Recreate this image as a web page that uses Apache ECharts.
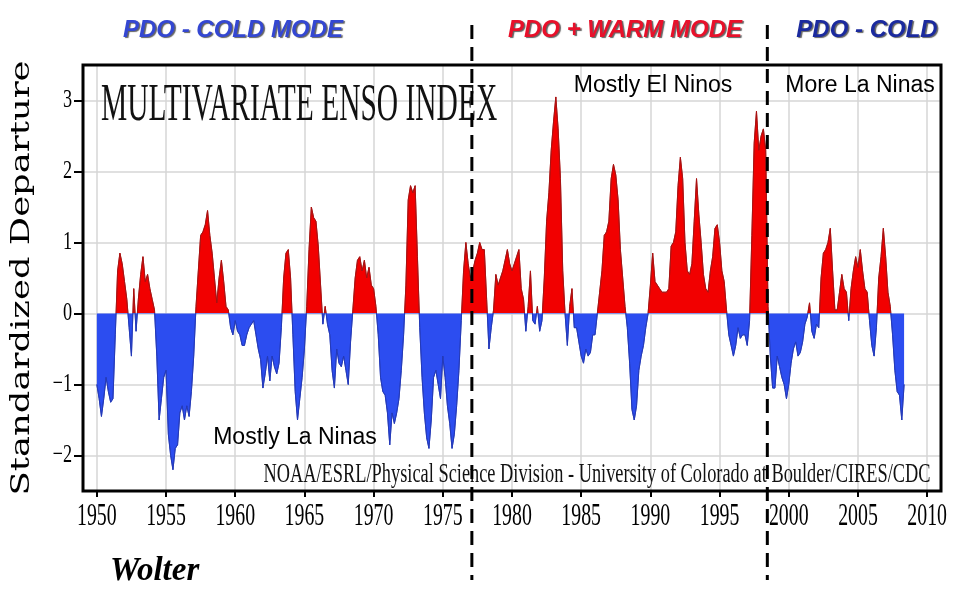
<!DOCTYPE html>
<html><head><meta charset="utf-8">
<script src="https://cdn.jsdelivr.net/npm/echarts@6/dist/echarts.min.js"></script>
<style>html,body{margin:0;padding:0;background:#fff}#c{width:960px;height:598px}</style>
</head><body><div id="c"></div>
<script>
// ---- data: Multivariate ENSO Index, bimonthly steps starting Jan 1950 ----
const startYear = 1950;
const stepsPerYear = 6;
const mei1950s = [
  -1.0,-1.2,-1.45,-1.2,-0.9,-1.1,  -1.25,-1.2,-0.3,0.6,0.85,0.7,
  0.45,0.2,-0.2,-0.6,0.35,-0.25,   0.2,0.55,0.8,0.45,0.55,0.35,
  0.2,0.05,-0.6,-1.5,-1.2,-0.9,    -0.8,-1.7,-2.0,-2.2,-1.9,-1.85,
  -1.4,-1.3,-1.5,-1.3,-1.45,-1.1,  -0.6,0.1,0.6,1.1,1.15,1.25,
  1.45,1.1,0.85,0.5,0.15,0.5,      0.75,0.45,0.1,0.05,-0.2,-0.3
];
const mei1960s = [
  -0.1,-0.25,-0.3,-0.45,-0.45,-0.3, -0.2,-0.15,-0.1,-0.3,-0.5,-0.65,
  -1.05,-0.85,-0.6,-0.95,-0.6,-0.75, -0.85,-0.7,-0.2,0.5,0.85,0.9,
  0.5,-0.3,-1.1,-1.5,-1.2,-0.9,     -0.5,0.1,0.9,1.5,1.35,1.3,
  0.95,0.4,-0.15,0.1,-0.15,-0.3,    -0.8,-1.05,-0.5,-0.7,-0.75,-0.6,
  -0.8,-1.0,-0.4,0.05,0.5,0.75,     0.8,0.6,0.75,0.5,0.65,0.4
];
const mei1970s = [
  0.35,0.1,-0.3,-0.9,-1.1,-1.15,    -1.4,-1.85,-1.4,-1.55,-1.4,-1.2,
  -0.8,-0.3,0.4,1.6,1.8,1.7,        1.8,0.8,-0.2,-0.9,-1.4,-1.75,
  -1.9,-1.5,-0.9,-0.8,-1.0,-1.2,    -0.6,-0.9,-1.3,-1.55,-1.9,-1.7,
  -1.3,-0.8,-0.1,0.6,1.0,0.7,       0.5,0.6,0.75,0.85,1.0,0.9,
  0.9,0.2,-0.5,-0.2,0.05,0.55,      0.4,0.5,0.6,0.75,0.9,0.7
];
const mei1980s = [
  0.6,0.7,0.8,0.9,0.35,0.2,         -0.25,0.1,0.6,-0.1,-0.15,0.1,
  -0.25,-0.1,0.5,1.3,1.7,2.3,       2.7,3.05,2.6,1.9,0.6,0.0,
  -0.45,0.1,0.35,-0.2,-0.2,-0.4,    -0.6,-0.7,-0.5,-0.6,-0.55,-0.3,
  -0.3,0.0,0.3,0.6,1.1,1.15,        1.3,1.9,2.1,1.95,1.6,0.9,
  0.5,0.1,-0.2,-0.7,-1.35,-1.5,     -1.3,-0.8,-0.6,-0.45,-0.2,0.0
];
const mei1990s = [
  0.4,0.85,0.45,0.4,0.35,0.3,       0.3,0.3,0.35,0.95,1.0,1.15,
  1.8,2.2,1.9,1.0,0.6,0.55,         0.7,1.3,1.9,1.4,1.0,0.55,
  0.35,0.3,0.6,0.8,1.2,1.25,        1.0,0.6,0.45,0.05,-0.3,-0.45,
  -0.6,-0.45,-0.2,-0.35,-0.3,-0.3,  -0.45,-0.1,1.1,2.4,2.85,2.3,
  2.5,2.6,2.3,0.1,-0.6,-1.05,       -1.05,-0.6,-0.75,-0.9,-1.0,-1.2
];
const mei2000s = [
  -1.0,-0.7,-0.5,-0.4,-0.6,-0.55,   -0.4,-0.15,-0.05,0.15,-0.25,-0.35,
  -0.15,-0.2,0.5,0.85,0.9,1.0,      1.2,0.6,0.05,0.05,0.3,0.55,
  0.35,0.3,-0.1,0.35,0.6,0.8,       0.65,0.9,0.6,0.35,0.3,-0.1,
  -0.45,-0.6,-0.2,0.5,0.8,1.2,      0.8,0.3,0.1,-0.3,-0.8,-1.1,
  -1.15,-1.5,-1.0
];
const xTicks = [1950,1955,1960,1965,1970,1975,1980,1985,1990,1995,2000,2005,2010];
const yTicks = [-2,-1,0,1,2,3];
const phaseBreaks = [1977.1, 1998.45];
const phaseTitles = ['PDO - COLD MODE', 'PDO + WARM MODE', 'PDO - COLD'];
const phaseNotes = ['Mostly La Ninas', 'Mostly El Ninos', 'More La Ninas'];

const mei = [].concat(mei1950s, mei1960s, mei1970s, mei1980s, mei1990s, mei2000s);
const seriesData = mei.map((v, i) => [startYear + i / stepsPerYear, v]);

const chart = echarts.init(document.getElementById('c'), null, {renderer: 'canvas'});
const RED = '#f20000', BLUE = '#2c4df0';
const GRID = {left: 83, top: 65, width: 858, height: 426};
chart.setOption({
  animation: false,
  backgroundColor: '#ffffff',
  grid: Object.assign({show: true, borderColor: '#000', borderWidth: 3, backgroundColor: 'transparent', z: 5}, GRID),
  xAxis: {
    type: 'value', min: 1949, max: 2011, splitNumber: 12,
    axisLine: {show: false, onZero: false},
    axisTick: {show: true, length: 6, customValues: xTicks, lineStyle: {color: '#000', width: 2}},
    axisLabel: {show: false},
    splitLine: {show: true, lineStyle: {color: '#d6d6d6', width: 1.5}}
  },
  yAxis: {
    type: 'value', min: -2.5, max: 3.5, splitNumber: 6,
    axisLine: {show: false, onZero: false},
    axisTick: {show: true, length: 9, customValues: yTicks, lineStyle: {color: '#000', width: 2}},
    axisLabel: {show: false},
    splitLine: {show: true, lineStyle: {color: '#d6d6d6', width: 1.5}}
  },
  series: [
    {type: 'line', data: seriesData, symbol: 'none', silent: true,
     lineStyle: {width: 0}, areaStyle: {opacity: 1, origin: 0, color: RED}, z: 2}
  ]
});

function px(x, y) { return chart.convertToPixel({gridIndex: 0}, [x, y]); }
// split fill colour at the zero line (global gradient)
const y0 = px(1950, 0)[1];
const f = (y0 - GRID.top) / GRID.height;
function splitGrad(up, down) {
  return new echarts.graphic.LinearGradient(0, GRID.top, 0, GRID.top + GRID.height, [
    {offset: 0, color: up}, {offset: f, color: up}, {offset: f, color: down}, {offset: 1, color: down}
  ], true);
}
chart.setOption({series: [{
  lineStyle: {width: 0.9, color: splitGrad('#a81010', '#2238b8')},
  areaStyle: {opacity: 1, origin: 0, color: splitGrad(RED, BLUE)}
}]});

const g = [];
const serif = '"Liberation Serif", "DejaVu Serif", serif';
const sans = '"Liberation Sans", Arial, sans-serif';
const yBottom = px(2011, -2.5)[1];
xTicks.forEach(t => {
  const p = px(t, -2.5);
  g.push({type: 'text', x: p[0], y: yBottom + 26, scaleX: 0.62, z: 20,
    style: {text: String(t), font: '32px ' + serif, fill: '#000', align: 'center', verticalAlign: 'middle'}});
});
yTicks.forEach(t => {
  const p = px(1949, t);
  g.push({type: 'text', x: 72, y: p[1], scaleX: 0.7, z: 20,
    style: {text: (t < 0 ? '\u2212' : '') + Math.abs(t), font: '26px ' + serif, fill: '#000', align: 'right', verticalAlign: 'middle'}});
});
// axis name
g.push({type: 'text', x: 22, y: 278, rotation: Math.PI / 2, scaleX: 1.36, z: 20,
  style: {text: 'Standardized Departure', font: '26px "DejaVu Serif", serif', fill: '#000', align: 'center', verticalAlign: 'middle'}});
// chart title inside plot
g.push({type: 'text', x: 101, y: 106, scaleX: 0.556, z: 20,
  style: {text: 'MULTIVARIATE ENSO INDEX', font: '53px ' + serif, fill: '#111', align: 'left', verticalAlign: 'middle'}});
// credit
g.push({type: 'text', x: 597, y: 475, scaleX: 0.68, z: 20,
  style: {text: 'NOAA/ESRL/Physical Science Division - University of Colorado at Boulder/CIRES/CDC', font: '27px ' + serif, fill: '#111', align: 'center', verticalAlign: 'middle'}});
// dashed phase boundaries
phaseBreaks.forEach(b => {
  const x = px(b, 0)[0];
  g.push({type: 'line', z: 30, shape: {x1: x, y1: 25, x2: x, y2: 580},
    style: {stroke: '#000', lineWidth: 3, lineDash: [14, 8]}});
});
// phase titles
const titleX = [233, 625, 867];
const titleColor = ['#3447d2', '#e8102a', '#1b2a9e'];
phaseTitles.forEach((t, i) => {
  g.push({type: 'text', x: titleX[i], y: 30, z: 20,
    style: {text: t, font: 'italic 900 24px ' + sans, fill: titleColor[i], align: 'center', verticalAlign: 'middle',
      textShadowColor: 'rgba(60,60,60,0.8)', textShadowOffsetX: 1.5, textShadowOffsetY: 1.5, textShadowBlur: 1}});
});
// phase notes
const noteX = [295, 653, 860];
const noteY = [438, 86, 86];
phaseNotes.forEach((t, i) => {
  g.push({type: 'text', x: noteX[i], y: noteY[i], z: 20,
    style: {text: t, font: '23px ' + sans, fill: '#000', align: 'center', verticalAlign: 'middle'}});
});
g.push({type: 'text', x: 110, y: 571, z: 20,
  style: {text: 'Wolter', font: 'italic bold 33px ' + serif, fill: '#000', align: 'left', verticalAlign: 'middle'}});
chart.setOption({graphic: g});
</script>
</body></html>
